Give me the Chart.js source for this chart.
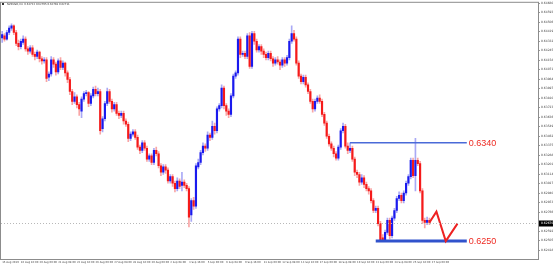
<!DOCTYPE html>
<html>
<head>
<meta charset="utf-8">
<script src="https://cdn.jsdelivr.net/npm/chart.js@4.4.1/dist/chart.umd.min.js"></script>
<style>
  html, body { margin: 0; padding: 0; background: #fff; }
  #wrap { width: 553px; height: 266px; }
</style>
</head>
<body>
<div id="wrap"><canvas id="chart" width="553" height="266"></canvas></div>
<script>
// NZDUSD H4 candles (oldest first)
const opens = [
  0.6436, 0.6438, 0.6435, 0.6441, 0.6445, 0.6447, 0.6441, 0.6431, 0.6428, 0.6432,
  0.6435, 0.6426, 0.6424, 0.6427, 0.6421, 0.6419, 0.6423, 0.6417, 0.6415, 0.6416,
  0.6400, 0.6403, 0.6416, 0.6412, 0.6405, 0.6415, 0.6409, 0.6413, 0.6404, 0.6398,
  0.6387, 0.6378, 0.6382, 0.6375, 0.6369, 0.6380, 0.6385, 0.6386, 0.6376, 0.6383,
  0.6389, 0.6385, 0.6387, 0.6353, 0.6362, 0.6376, 0.6387, 0.6378, 0.6371, 0.6375,
  0.6367, 0.6365, 0.6367, 0.6360, 0.6357, 0.6344, 0.6348, 0.6350, 0.6345, 0.6336,
  0.6333, 0.6340, 0.6335, 0.6325, 0.6328, 0.6322, 0.6333, 0.6330, 0.6319, 0.6313,
  0.6318, 0.6315, 0.6305, 0.6309, 0.6303, 0.6298, 0.6305, 0.6301, 0.6304, 0.6301,
  0.6298, 0.6274, 0.6287, 0.6282, 0.6318, 0.6322, 0.6331, 0.6337, 0.6335, 0.6347,
  0.6345, 0.6355, 0.6351, 0.6371, 0.6374, 0.6390, 0.6374, 0.6369, 0.6366, 0.6383,
  0.6401, 0.6404, 0.6435, 0.6421, 0.6422, 0.6419, 0.6438, 0.6410, 0.6440, 0.6433,
  0.6425, 0.6428, 0.6424, 0.6421, 0.6418, 0.6422, 0.6417, 0.6413, 0.6416, 0.6414,
  0.6411, 0.6416, 0.6413, 0.6418, 0.6433, 0.6440, 0.6435, 0.6413, 0.6401, 0.6396,
  0.6400, 0.6393, 0.6387, 0.6378, 0.6371, 0.6378, 0.6381, 0.6378, 0.6366, 0.6358,
  0.6346, 0.6339, 0.6335, 0.6330, 0.6326, 0.6336, 0.6351, 0.6355, 0.6337, 0.6333,
  0.6335, 0.6325, 0.6313, 0.6311, 0.6304, 0.6308, 0.6302, 0.6298, 0.6296, 0.6287,
  0.6278, 0.6280, 0.6266, 0.6253, 0.6251, 0.6258, 0.6269, 0.6255, 0.6271, 0.6278,
  0.6289, 0.6292, 0.6287, 0.6294, 0.6303, 0.6309, 0.6324, 0.6310, 0.6324, 0.6321,
  0.6296, 0.6269, 0.6267, 0.6269
];
const highs = [
  0.6442, 0.6440, 0.6443, 0.6447, 0.6449, 0.6448, 0.6443, 0.6434, 0.6435, 0.6438,
  0.6437, 0.6428, 0.6429, 0.6429, 0.6423, 0.6425, 0.6424, 0.6419, 0.6418, 0.6418,
  0.6405, 0.6419, 0.6418, 0.6414, 0.6417, 0.6418, 0.6415, 0.6414, 0.6406, 0.6400,
  0.6389, 0.6386, 0.6384, 0.6377, 0.6382, 0.6387, 0.6388, 0.6387, 0.6385, 0.6391,
  0.6392, 0.6390, 0.6389, 0.6364, 0.6378, 0.6390, 0.6389, 0.6380, 0.6377, 0.6377,
  0.6369, 0.6369, 0.6369, 0.6362, 0.6359, 0.6350, 0.6352, 0.6352, 0.6347, 0.6338,
  0.6342, 0.6342, 0.6337, 0.6330, 0.6330, 0.6335, 0.6336, 0.6332, 0.6321, 0.6320,
  0.6320, 0.6317, 0.6311, 0.6311, 0.6305, 0.6308, 0.6307, 0.6313, 0.6306, 0.6303,
  0.6300, 0.6289, 0.6290, 0.6321, 0.6325, 0.6333, 0.6340, 0.6339, 0.6350, 0.6349,
  0.6360, 0.6358, 0.6373, 0.6376, 0.6393, 0.6392, 0.6376, 0.6371, 0.6385, 0.6403,
  0.6406, 0.6437, 0.6437, 0.6424, 0.6424, 0.6440, 0.6441, 0.6442, 0.6442, 0.6435,
  0.6430, 0.6430, 0.6426, 0.6423, 0.6424, 0.6424, 0.6419, 0.6418, 0.6419, 0.6416,
  0.6418, 0.6418, 0.6420, 0.6435, 0.6447, 0.6443, 0.6437, 0.6415, 0.6403, 0.6402,
  0.6402, 0.6395, 0.6389, 0.6380, 0.6380, 0.6383, 0.6384, 0.6380, 0.6368, 0.6360,
  0.6348, 0.6341, 0.6337, 0.6332, 0.6338, 0.6353, 0.6358, 0.6357, 0.6340, 0.6340,
  0.6337, 0.6327, 0.6315, 0.6313, 0.6311, 0.6310, 0.6304, 0.6300, 0.6298, 0.6289,
  0.6282, 0.6282, 0.6268, 0.6256, 0.6260, 0.6271, 0.6271, 0.6273, 0.6280, 0.6291,
  0.6295, 0.6294, 0.6296, 0.6305, 0.6311, 0.6326, 0.6326, 0.6344, 0.6326, 0.6323,
  0.6298, 0.6271, 0.6272, 0.6271
];
const lows = [
  0.6432, 0.6433, 0.6434, 0.6439, 0.6443, 0.6439, 0.6429, 0.6425, 0.6426, 0.6430,
  0.6424, 0.6421, 0.6422, 0.6419, 0.6416, 0.6417, 0.6414, 0.6412, 0.6413, 0.6396,
  0.6397, 0.6401, 0.6409, 0.6402, 0.6403, 0.6407, 0.6407, 0.6401, 0.6395, 0.6384,
  0.6375, 0.6376, 0.6372, 0.6365, 0.6363, 0.6378, 0.6383, 0.6373, 0.6374, 0.6381,
  0.6383, 0.6383, 0.6348, 0.6350, 0.6360, 0.6374, 0.6376, 0.6368, 0.6369, 0.6365,
  0.6362, 0.6363, 0.6357, 0.6355, 0.6341, 0.6342, 0.6346, 0.6343, 0.6334, 0.6330,
  0.6331, 0.6333, 0.6323, 0.6323, 0.6320, 0.6320, 0.6328, 0.6317, 0.6310, 0.6311,
  0.6312, 0.6303, 0.6303, 0.6300, 0.6295, 0.6296, 0.6298, 0.6296, 0.6299, 0.6296,
  0.6263, 0.6268, 0.6279, 0.6280, 0.6316, 0.6320, 0.6329, 0.6332, 0.6333, 0.6342,
  0.6343, 0.6348, 0.6349, 0.6369, 0.6372, 0.6371, 0.6365, 0.6363, 0.6364, 0.6381,
  0.6399, 0.6402, 0.6418, 0.6419, 0.6417, 0.6417, 0.6408, 0.6408, 0.6430, 0.6423,
  0.6423, 0.6421, 0.6418, 0.6416, 0.6416, 0.6415, 0.6410, 0.6411, 0.6412, 0.6407,
  0.6409, 0.6410, 0.6411, 0.6416, 0.6431, 0.6433, 0.6411, 0.6399, 0.6394, 0.6394,
  0.6391, 0.6385, 0.6376, 0.6368, 0.6369, 0.6376, 0.6376, 0.6364, 0.6356, 0.6344,
  0.6337, 0.6333, 0.6327, 0.6324, 0.6324, 0.6334, 0.6349, 0.6335, 0.6330, 0.6331,
  0.6323, 0.6310, 0.6308, 0.6301, 0.6302, 0.6299, 0.6296, 0.6293, 0.6285, 0.6276,
  0.6276, 0.6264, 0.6250, 0.6250, 0.6250, 0.6256, 0.6252, 0.6253, 0.6269, 0.6276,
  0.6287, 0.6285, 0.6285, 0.6292, 0.6301, 0.6307, 0.6308, 0.6296, 0.6319, 0.6294,
  0.6266, 0.6262, 0.6265, 0.6265
];
const closes = [
  0.6439, 0.6435, 0.6441, 0.6445, 0.6447, 0.6441, 0.6431, 0.6428, 0.6433, 0.6435,
  0.6426, 0.6424, 0.6427, 0.6421, 0.6419, 0.6423, 0.6417, 0.6415, 0.6416, 0.6399,
  0.6403, 0.6416, 0.6412, 0.6405, 0.6415, 0.6409, 0.6413, 0.6404, 0.6398, 0.6387,
  0.6378, 0.6382, 0.6375, 0.6371, 0.6380, 0.6385, 0.6386, 0.6376, 0.6383, 0.6389,
  0.6385, 0.6387, 0.6351, 0.6362, 0.6376, 0.6387, 0.6378, 0.6371, 0.6375, 0.6367,
  0.6365, 0.6367, 0.6360, 0.6357, 0.6344, 0.6348, 0.6350, 0.6345, 0.6336, 0.6333,
  0.6340, 0.6335, 0.6325, 0.6328, 0.6322, 0.6333, 0.6330, 0.6319, 0.6313, 0.6318,
  0.6315, 0.6305, 0.6309, 0.6303, 0.6298, 0.6305, 0.6300, 0.6304, 0.6301, 0.6298,
  0.6272, 0.6287, 0.6282, 0.6319, 0.6322, 0.6331, 0.6337, 0.6335, 0.6347, 0.6345,
  0.6355, 0.6351, 0.6371, 0.6374, 0.6390, 0.6374, 0.6369, 0.6366, 0.6383, 0.6401,
  0.6404, 0.6435, 0.6421, 0.6422, 0.6419, 0.6438, 0.6410, 0.6440, 0.6433, 0.6425,
  0.6428, 0.6424, 0.6421, 0.6418, 0.6422, 0.6417, 0.6413, 0.6416, 0.6414, 0.6411,
  0.6416, 0.6413, 0.6418, 0.6433, 0.6440, 0.6435, 0.6413, 0.6401, 0.6396, 0.6400,
  0.6393, 0.6387, 0.6378, 0.6371, 0.6378, 0.6381, 0.6378, 0.6366, 0.6358, 0.6346,
  0.6339, 0.6335, 0.6330, 0.6326, 0.6336, 0.6351, 0.6355, 0.6337, 0.6333, 0.6335,
  0.6325, 0.6313, 0.6311, 0.6304, 0.6308, 0.6302, 0.6298, 0.6296, 0.6287, 0.6278,
  0.6280, 0.6266, 0.6251, 0.6251, 0.6258, 0.6269, 0.6255, 0.6271, 0.6278, 0.6289,
  0.6292, 0.6287, 0.6294, 0.6303, 0.6309, 0.6324, 0.6310, 0.6324, 0.6321, 0.6296,
  0.6269, 0.6267, 0.6269, 0.6267
];

// time axis: bar slots (candles + empty space on the right), labels every 8 bars
const slotCount = 230;
const xTickIdx = [0, 8, 16, 24, 32, 40, 48, 56, 64, 72, 80, 88, 96, 104, 112, 120, 128, 136, 144, 152, 160, 168, 176, 184];
const xTickLabels = [
  '15 Aug 2019', '16 Aug 16:00', '20 Aug 00:00', '21 Aug 08:00', '22 Aug 16:00', '26 Aug 00:00',
  '27 Aug 08:00', '28 Aug 16:00', '30 Aug 00:00', '2 Sep 08:00', '3 Sep 16:00', '5 Sep 00:00',
  '6 Sep 08:00', '9 Sep 16:00', '11 Sep 00:00', '12 Sep 08:00', '13 Sep 16:00', '17 Sep 00:00',
  '18 Sep 08:00', '19 Sep 16:00', '23 Sep 00:00', '24 Sep 08:00', '25 Sep 16:00', '27 Sep 00:00'
];

// price axis
const yMin = 0.62336;
const yMax = 0.64682;
const yTicks = [
  0.64680, 0.64593, 0.64506, 0.64419, 0.64332, 0.64245, 0.64158, 0.64071, 0.63984,
  0.63897, 0.63810, 0.63723, 0.63636, 0.63549, 0.63462, 0.63375, 0.63288, 0.63201,
  0.63114, 0.63027, 0.62940, 0.62853, 0.62766, 0.62592, 0.62505, 0.62418
];

// drawn levels and projected path
const levels = [0.6340, 0.6250];
const levelFrom = [149, 160];
const levelTo = 199;
const arrowIdx = [183, 186, 190, 195];
const arrowPrice = [0.6267, 0.6277, 0.6250, 0.6266];

const header = 'NZDUSD,H4  0.62722 0.62795 0.62708 0.62711';

const labels = [];
for (let i = 0; i < slotCount; i++) labels.push(String(i));

const isUp = opens.map((o, i) => closes[i] >= o);
const bodyColors = isUp.map(u => u ? '#1a1aee' : '#f51a1a');
const wickColors = isUp.map(u => u ? 'rgba(40,40,230,0.4)' : 'rgba(240,30,30,0.4)');

function sparse(idx, vals) {
  const arr = new Array(slotCount).fill(null);
  idx.forEach((k, j) => arr[k] = vals[j]);
  return arr;
}

const lastClose = closes[closes.length - 1];

const overlay = {
  id: 'overlay',
  afterDatasetsDraw(chart) {
    const { ctx, chartArea: { top, bottom, left, right }, scales: { x, y } } = chart;
    ctx.save();

    // current price dotted line
    const py = Math.round(y.getPixelForValue(lastClose)) + 0.5;
    ctx.strokeStyle = '#b8b8b8';
    ctx.lineWidth = 1;
    ctx.setLineDash([1, 2]);
    ctx.beginPath();
    ctx.moveTo(left, py);
    ctx.lineTo(right, py);
    ctx.stroke();
    ctx.setLineDash([]);

    // frame
    ctx.strokeStyle = '#8c8c8c';
    ctx.strokeRect(left - 0.5, top - 0.5, right - left + 1, bottom - top + 1);

    // price box on the axis
    ctx.fillStyle = '#000';
    ctx.fillRect(right + 1, py - 3, 15, 6);
    ctx.fillStyle = '#fff';
    ctx.font = '3px "DejaVu Sans"';
    ctx.textBaseline = 'middle';
    ctx.textAlign = 'left';
    ctx.fillText(lastClose.toFixed(5), right + 3, py);

    // level labels
    ctx.fillStyle = '#ee2a22';
    ctx.font = '9px "Liberation Sans"';
    levels.forEach(v => {
      ctx.fillText(v.toFixed(4), x.getPixelForValue(levelTo) + 2, y.getPixelForValue(v) + 0.5);
    });

    // header
    ctx.fillStyle = '#333';
    ctx.fillRect(2, 3, 2, 2);
    ctx.font = '2.6px "DejaVu Sans"';
    ctx.fillText(header, 7, 4.2);

    ctx.restore();
  }
};

new Chart(document.getElementById('chart'), {
  type: 'bar',
  data: {
    labels: labels,
    datasets: [
      {
        type: 'line',
        data: sparse(arrowIdx, arrowPrice),
        borderColor: '#ee2222',
        borderWidth: 2,
        pointRadius: 0,
        spanGaps: true,
        order: 0
      },
      {
        type: 'line',
        data: sparse([levelFrom[0], levelTo], [levels[0], levels[0]]),
        borderColor: '#4a6ad8',
        borderWidth: 1.5,
        pointRadius: 0,
        spanGaps: true,
        order: 1
      },
      {
        type: 'line',
        data: sparse([levelFrom[1], levelTo], [levels[1], levels[1]]),
        borderColor: '#3152cc',
        borderWidth: 3,
        pointRadius: 0,
        spanGaps: true,
        order: 1
      },
      {
        data: opens.map((o, i) => [o, closes[i]]),
        backgroundColor: bodyColors,
        barThickness: 1.5,
        grouped: false,
        order: 2
      },
      {
        data: lows.map((l, i) => [l, highs[i]]),
        backgroundColor: wickColors,
        barThickness: 1,
        grouped: false,
        order: 3
      }
    ]
  },
  options: {
    responsive: false,
    animation: false,
    layout: { padding: { left: 1, top: 1, right: 0, bottom: 0 } },
    plugins: {
      legend: { display: false },
      tooltip: { enabled: false }
    },
    scales: {
      x: {
        type: 'category',
        offset: true,
        grid: { drawOnChartArea: false, tickLength: 1, color: '#999' },
        border: { display: false },
        afterBuildTicks: (scale) => { scale.ticks = xTickIdx.map(v => ({ value: v })); },
        afterFit: (scale) => { scale.height = 7; },
        ticks: {
          autoSkip: false,
          maxRotation: 0,
          align: 'start',
          padding: 1,
          color: '#444',
          font: { size: 2.6, family: 'DejaVu Sans' },
          callback: (value) => xTickLabels[xTickIdx.indexOf(value)]
        }
      },
      y: {
        position: 'right',
        min: yMin,
        max: yMax,
        grid: { drawOnChartArea: false, tickLength: 2, color: '#999' },
        border: { display: false },
        afterBuildTicks: (scale) => { scale.ticks = yTicks.map(v => ({ value: v })); },
        afterFit: (scale) => { scale.width = 15; },
        ticks: {
          padding: 1,
          color: '#444',
          font: { size: 3, family: 'DejaVu Sans' },
          callback: (v) => v.toFixed(5)
        }
      }
    }
  },
  plugins: [overlay]
});
</script>
</body>
</html>
